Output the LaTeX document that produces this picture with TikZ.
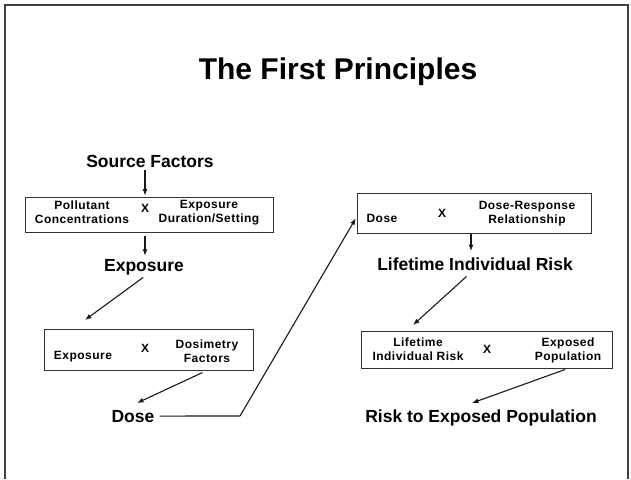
\documentclass[tikz,border=0pt]{standalone}
\usepackage{fontspec}
\setmainfont{Liberation Sans}
\newfontfamily\boxfont[LetterSpace=4]{Liberation Sans}
\usetikzlibrary{arrows.meta}
\begin{document}
\begin{tikzpicture}[x=1pt,y=-1pt,
  every node/.style={inner sep=2pt, text=black},
  heading/.style={font=\fontsize{30}{33}\selectfont\bfseries, anchor=base},
  stage/.style={font=\fontsize{17.5}{20}\selectfont\bfseries, anchor=base},
  factor/.style={font=\boxfont\fontsize{12}{14}\selectfont\bfseries, align=center},
  times/.style={font=\fontsize{12}{13}\selectfont\bfseries},
  panel/.style={draw=black!80, line width=0.9pt, inner sep=0pt},
  arr/.style={-{Latex[length=6.5pt,width=5pt]}, line width=1.1pt, draw=black!90},
  link/.style={line width=1.1pt, draw=black!90},
  frame/.style={line width=1.3pt, draw=black!75}
]
\useasboundingbox (0,0) rectangle (631,479);
% slide frame
\draw[frame] (5,479) -- (5,5) -- (628,5) -- (628,479);

% title
\node[heading] (title) at (338,79) {The First Principles};

% left chain
\node[stage] (src) at (150,167) {Source Factors};
\node[panel, minimum width=248pt, minimum height=35pt] (box1) at (149,214.5) {};
\node[factor] (pc) at (82,212) {Pollutant\\Concentrations};
\node[times] (x1) at (145,208) {X};
\node[factor] (eds) at (209,212.5) {Exposure\\Duration/Setting};
\node[stage] (expo) at (144,271) {Exposure};

\node[panel, minimum width=209pt, minimum height=41pt] (box2) at (148.5,349.5) {};
\node[factor, anchor=base] (expo2) at (83,359) {Exposure};
\node[times] (x2) at (145,348) {X};
\node[factor] (dosf) at (207,351) {Dosimetry\\Factors};
\node[stage] (dose) at (133,422) {Dose};

% right chain
\node[panel, minimum width=234pt, minimum height=40pt] (box3) at (474,213) {};
\node[factor, anchor=base] (dose3) at (382,222) {Dose};
\node[times] (x3) at (442,213) {X};
\node[factor] (drr) at (527,214) {Dose-Response\\Relationship};
\node[stage] (lir) at (475,270) {Lifetime Individual Risk};

\node[panel, minimum width=251pt, minimum height=37pt] (box4) at (486.5,349.5) {};
\node[factor] (lir4) at (418,349.5) {Lifetime\\Individual Risk};
\node[times] (x4) at (487,349) {X};
\node[factor] (pop) at (568,350) {Exposed\\Population};
\node[stage] (rep) at (481,422) {Risk to Exposed Population};

% free arrow ends and bends
\coordinate (tipA) at (85,320);
\coordinate (tipB) at (137,403);
\coordinate (bend) at (240,416);
\coordinate (colC) at (471,0);
\coordinate (tipD) at (413,325);
\coordinate (tipE) at (472,403);

% connectors
\draw[arr, shorten <=1pt, shorten >=1pt] (src.south -| x1) -- (box1.north -| x1);
\draw[arr, shorten <=4pt, shorten >=1pt] (box1.south -| x1) -- (expo.north -| x1);
\draw[arr, shorten <=1pt] (expo.south) -- (tipA);
\draw[arr, shorten <=5pt] (box2.south -| dosf) -- (tipB);
\draw[link, shorten <=3pt] (dose.east) -- (bend);
\draw[arr, shorten >=1.5pt] (bend) -- ([yshift=-4pt]box3.west);
\draw[arr, shorten <=1pt, shorten >=4pt] (box3.south -| colC) -- (lir.north -| colC);
\draw[arr, shorten <=6pt] (lir.south -| colC) -- (tipD);
\draw[arr, shorten <=3pt] (box4.south -| pop) -- (tipE);
\end{tikzpicture}
\end{document}
